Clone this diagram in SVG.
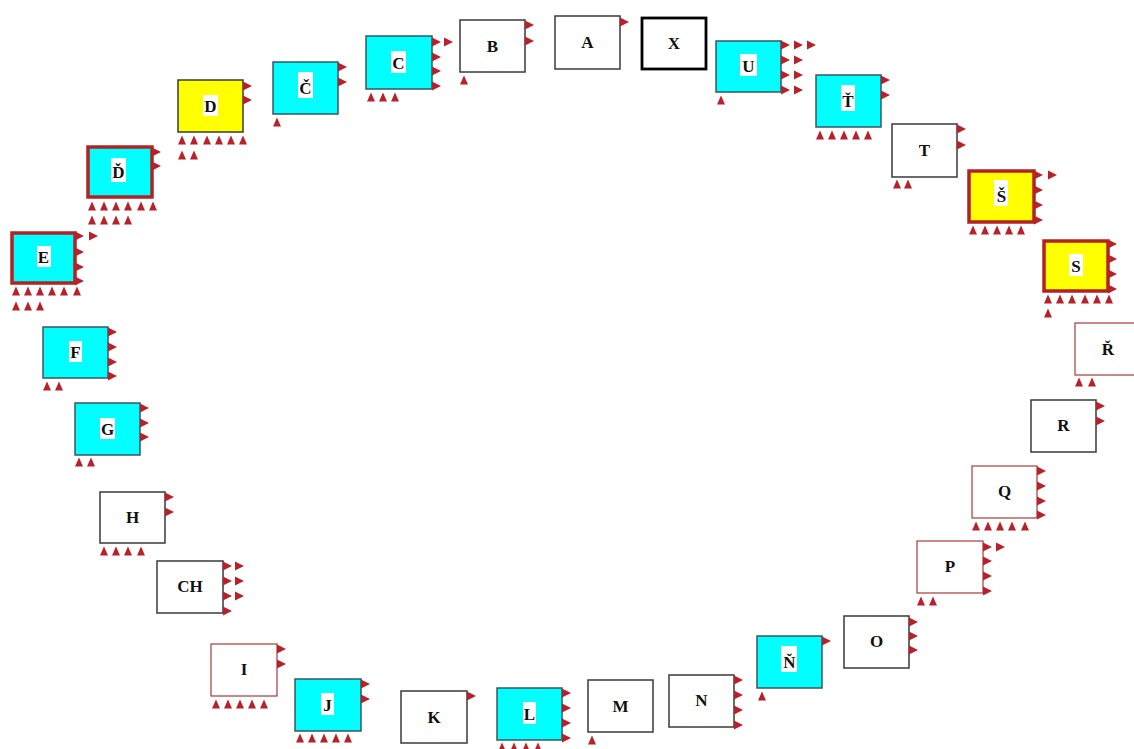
<svg xmlns="http://www.w3.org/2000/svg" xmlns:xlink="http://www.w3.org/1999/xlink" width="1134" height="749" viewBox="0 0 1134 749">
<style>
.w{fill:#fff;stroke:#3a3a3a;stroke-width:1.5}
.c{fill:#00ffff;stroke:#3a5560;stroke-width:1.5}
.y{fill:#ffff00;stroke:#3a3a3a;stroke-width:1.5}
.cr{fill:#00ffff;stroke:#b22222;stroke-width:3.5}
.yr{fill:#ffff00;stroke:#b22222;stroke-width:3.5}
.wr{fill:#fff;stroke:#a83a3a;stroke-width:1.2}
.wk{fill:#fff;stroke:#000;stroke-width:2.8}
.bg{fill:#fff}
text{font-family:"Liberation Serif","Times New Roman",serif;font-size:17px;font-weight:bold;fill:#111;text-anchor:middle}
</style>
<defs>
<path id="r" d="M0,-4.5 L9,0 L0,4.5 Z" fill="#b8202a"/>
<path id="u" d="M-4,4.5 L0,-4.5 L4,4.5 Z" fill="#b8202a"/>
</defs>
<rect width="1134" height="749" fill="#fff"/>
<g id="connectors"/>

<g id="node-A"><rect class="w" x="555" y="16" width="65" height="53"/><text x="587.5" y="48">A</text>
<use href="#r" x="620" y="22"/></g>

<g id="node-X"><rect class="wk" x="642" y="18" width="64" height="51"/><text x="674" y="49">X</text></g>

<g id="node-B"><rect class="w" x="460" y="20" width="65" height="52"/><text x="492.5" y="52">B</text>
<use href="#r" x="525" y="25"/><use href="#r" x="525" y="41"/><use href="#u" x="464" y="80"/></g>

<g id="node-C"><rect class="c" x="366" y="36" width="66" height="53"/><rect class="bg" x="391" y="51" width="15" height="22"/><text x="398.5" y="69">C</text>
<use href="#r" x="432" y="42"/><use href="#r" x="432" y="57"/><use href="#r" x="432" y="71"/><use href="#r" x="432" y="86"/><use href="#r" x="444" y="42"/>
<use href="#u" x="371" y="97"/><use href="#u" x="383" y="97"/><use href="#u" x="395" y="97"/></g>

<g id="node-Ccaron"><rect class="c" x="273" y="62" width="65" height="52"/><rect class="bg" x="298" y="72" width="15" height="26"/><text x="305.5" y="94">Č</text>
<use href="#r" x="338" y="67"/><use href="#r" x="338" y="82"/><use href="#u" x="277" y="122"/></g>

<g id="node-D"><rect class="y" x="178" y="80" width="65" height="52"/><rect class="bg" x="203" y="95" width="15" height="21"/><text x="210.5" y="112">D</text>
<use href="#r" x="243" y="86"/><use href="#r" x="243" y="100"/>
<use href="#u" x="182" y="140"/><use href="#u" x="194" y="140"/><use href="#u" x="207" y="140"/><use href="#u" x="219" y="140"/><use href="#u" x="231" y="140"/><use href="#u" x="243" y="140"/>
<use href="#u" x="182" y="155"/><use href="#u" x="194" y="155"/></g>

<g id="node-Dcaron"><rect class="cr" x="88" y="147" width="64" height="50"/><rect class="bg" x="111" y="158" width="15" height="24"/><text x="118.5" y="178">Ď</text>
<use href="#r" x="152" y="152"/><use href="#r" x="152" y="166"/>
<use href="#u" x="92" y="206"/><use href="#u" x="104" y="206"/><use href="#u" x="116" y="206"/><use href="#u" x="128" y="206"/><use href="#u" x="141" y="206"/><use href="#u" x="153" y="206"/>
<use href="#u" x="92" y="220"/><use href="#u" x="104" y="220"/><use href="#u" x="116" y="220"/><use href="#u" x="128" y="220"/></g>

<g id="node-E"><rect class="cr" x="12" y="233" width="63" height="50"/><rect class="bg" x="37" y="246" width="14" height="21"/><text x="43.5" y="263">E</text>
<use href="#r" x="75" y="236"/><use href="#r" x="75" y="252"/><use href="#r" x="75" y="267"/><use href="#r" x="75" y="281"/><use href="#r" x="89" y="236"/>
<use href="#u" x="16" y="291"/><use href="#u" x="28" y="291"/><use href="#u" x="40" y="291"/><use href="#u" x="52" y="291"/><use href="#u" x="64" y="291"/><use href="#u" x="77" y="291"/>
<use href="#u" x="16" y="306"/><use href="#u" x="28" y="306"/><use href="#u" x="40" y="306"/></g>

<g id="node-F"><rect class="c" x="43" y="327" width="65" height="51"/><rect class="bg" x="69" y="341" width="13" height="21"/><text x="75.5" y="358">F</text>
<use href="#r" x="108" y="332"/><use href="#r" x="108" y="347"/><use href="#r" x="108" y="362"/><use href="#r" x="108" y="376"/>
<use href="#u" x="47" y="386"/><use href="#u" x="59" y="386"/></g>

<g id="node-G"><rect class="c" x="75" y="403" width="65" height="52"/><rect class="bg" x="100" y="418" width="15" height="21"/><text x="107.5" y="435">G</text>
<use href="#r" x="140" y="408"/><use href="#r" x="140" y="423"/><use href="#r" x="140" y="437"/>
<use href="#u" x="79" y="462"/><use href="#u" x="91" y="462"/></g>

<g id="node-H"><rect class="w" x="100" y="492" width="65" height="51"/><text x="132.5" y="523">H</text>
<use href="#r" x="165" y="497"/><use href="#r" x="165" y="512"/>
<use href="#u" x="104" y="551"/><use href="#u" x="116" y="551"/><use href="#u" x="128" y="551"/><use href="#u" x="141" y="551"/></g>

<g id="node-CH"><rect class="w" x="157" y="561" width="66" height="52"/><text x="190" y="592">CH</text>
<use href="#r" x="223" y="566"/><use href="#r" x="223" y="581"/><use href="#r" x="223" y="596"/><use href="#r" x="223" y="611"/>
<use href="#r" x="235" y="566"/><use href="#r" x="235" y="581"/><use href="#r" x="235" y="596"/></g>

<g id="node-I"><rect class="wr" x="211" y="644" width="66" height="52"/><text x="244" y="675">I</text>
<use href="#r" x="277" y="649"/><use href="#r" x="277" y="664"/>
<use href="#u" x="216" y="704"/><use href="#u" x="228" y="704"/><use href="#u" x="240" y="704"/><use href="#u" x="252" y="704"/><use href="#u" x="264" y="704"/></g>

<g id="node-J"><rect class="c" x="295" y="679" width="66" height="52"/><rect class="bg" x="321" y="693" width="13" height="22"/><text x="327.5" y="711">J</text>
<use href="#r" x="361" y="684"/><use href="#r" x="361" y="699"/>
<use href="#u" x="300" y="738"/><use href="#u" x="312" y="738"/><use href="#u" x="324" y="738"/><use href="#u" x="336" y="738"/><use href="#u" x="348" y="738"/></g>

<g id="node-K"><rect class="w" x="401" y="691" width="66" height="52"/><text x="434" y="723">K</text>
<use href="#r" x="467" y="696"/></g>

<g id="node-L"><rect class="c" x="497" y="688" width="65" height="52"/><rect class="bg" x="523" y="702" width="13" height="22"/><text x="529.5" y="720">L</text>
<use href="#r" x="562" y="693"/><use href="#r" x="562" y="708"/><use href="#r" x="562" y="723"/><use href="#r" x="562" y="738"/>
<use href="#u" x="502" y="747"/><use href="#u" x="514" y="747"/><use href="#u" x="526" y="747"/><use href="#u" x="538" y="747"/></g>

<g id="node-M"><rect class="w" x="588" y="680" width="65" height="52"/><text x="620.5" y="712">M</text>
<use href="#u" x="592" y="740"/></g>

<g id="node-N"><rect class="w" x="669" y="675" width="65" height="52"/><text x="701.5" y="706">N</text>
<use href="#r" x="734" y="680"/><use href="#r" x="734" y="695"/><use href="#r" x="734" y="710"/><use href="#r" x="734" y="725"/></g>

<g id="node-Ncaron"><rect class="c" x="757" y="636" width="65" height="52"/><rect class="bg" x="781" y="646" width="16" height="26"/><text x="789.5" y="668">Ň</text>
<use href="#r" x="822" y="641"/><use href="#u" x="762" y="696"/></g>

<g id="node-O"><rect class="w" x="844" y="616" width="65" height="52"/><text x="876.5" y="647">O</text>
<use href="#r" x="909" y="622"/><use href="#r" x="909" y="636"/><use href="#r" x="909" y="650"/></g>

<g id="node-P"><rect class="wr" x="917" y="541" width="66" height="52"/><text x="950" y="572">P</text>
<use href="#r" x="983" y="547"/><use href="#r" x="983" y="561"/><use href="#r" x="983" y="576"/><use href="#r" x="983" y="591"/><use href="#r" x="996" y="547"/>
<use href="#u" x="921" y="601"/><use href="#u" x="933" y="601"/></g>

<g id="node-Q"><rect class="wr" x="972" y="466" width="65" height="52"/><text x="1004.5" y="497">Q</text>
<use href="#r" x="1037" y="471"/><use href="#r" x="1037" y="486"/><use href="#r" x="1037" y="501"/><use href="#r" x="1037" y="515"/>
<use href="#u" x="976" y="526"/><use href="#u" x="988" y="526"/><use href="#u" x="1000" y="526"/><use href="#u" x="1012" y="526"/><use href="#u" x="1025" y="526"/></g>

<g id="node-R"><rect class="w" x="1031" y="400" width="65" height="52"/><text x="1063.5" y="431">R</text>
<use href="#r" x="1096" y="406"/><use href="#r" x="1096" y="421"/></g>

<g id="node-Rcaron"><rect class="wr" x="1075" y="323" width="66" height="52"/><text x="1108" y="355">Ř</text>
<use href="#u" x="1079" y="382"/><use href="#u" x="1092" y="382"/></g>

<g id="node-S"><rect class="yr" x="1044" y="241" width="64" height="50"/><rect class="bg" x="1069" y="254" width="14" height="22"/><text x="1076" y="272">S</text>
<use href="#r" x="1108" y="244"/><use href="#r" x="1108" y="259"/><use href="#r" x="1108" y="274"/><use href="#r" x="1108" y="289"/>
<use href="#u" x="1048" y="299"/><use href="#u" x="1060" y="299"/><use href="#u" x="1072" y="299"/><use href="#u" x="1085" y="299"/><use href="#u" x="1097" y="299"/><use href="#u" x="1109" y="299"/>
<use href="#u" x="1048" y="313"/></g>

<g id="node-Scaron"><rect class="yr" x="969" y="171" width="65" height="51"/><rect class="bg" x="994" y="180" width="14" height="26"/><text x="1001.5" y="202">Š</text>
<use href="#r" x="1034" y="175"/><use href="#r" x="1034" y="190"/><use href="#r" x="1034" y="205"/><use href="#r" x="1034" y="220"/><use href="#r" x="1048" y="175"/>
<use href="#u" x="973" y="230"/><use href="#u" x="985" y="230"/><use href="#u" x="997" y="230"/><use href="#u" x="1009" y="230"/><use href="#u" x="1021" y="230"/></g>

<g id="node-T"><rect class="w" x="892" y="124" width="65" height="53"/><text x="924.5" y="156">T</text>
<use href="#r" x="957" y="129"/><use href="#r" x="957" y="145"/>
<use href="#u" x="897" y="184"/><use href="#u" x="908" y="184"/></g>

<g id="node-Tcaron"><rect class="c" x="816" y="75" width="65" height="52"/><rect class="bg" x="841" y="85" width="14" height="26"/><text x="848" y="107">Ť</text>
<use href="#r" x="881" y="80"/><use href="#r" x="881" y="95"/>
<use href="#u" x="820" y="135"/><use href="#u" x="832" y="135"/><use href="#u" x="844" y="135"/><use href="#u" x="856" y="135"/><use href="#u" x="868" y="135"/></g>

<g id="node-U"><rect class="c" x="716" y="41" width="65" height="51"/><rect class="bg" x="740" y="54" width="17" height="22"/><text x="748.5" y="72">U</text>
<use href="#r" x="781" y="45"/><use href="#r" x="781" y="60"/><use href="#r" x="781" y="75"/><use href="#r" x="781" y="90"/>
<use href="#r" x="794" y="45"/><use href="#r" x="794" y="60"/><use href="#r" x="794" y="75"/><use href="#r" x="794" y="90"/>
<use href="#r" x="807" y="45"/>
<use href="#u" x="721" y="100"/></g>
</svg>
